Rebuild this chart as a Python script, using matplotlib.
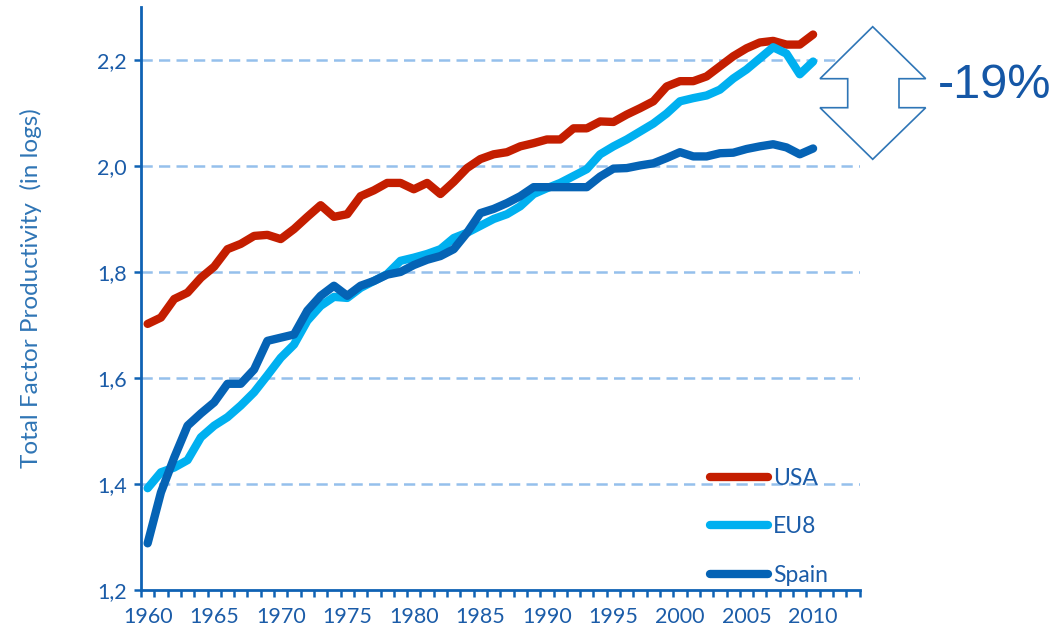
import numpy as np
import matplotlib
matplotlib.use("Agg")
import matplotlib.pyplot as plt
from matplotlib.patches import Polygon
from matplotlib.ticker import FuncFormatter, MultipleLocator

plt.rcParams['font.family'] = ['Lato', 'DejaVu Sans']

## Data (TFP in logs)
years = list(range(1960, 2011))

usa = [1.702, 1.714, 1.749, 1.761, 1.789, 1.810, 1.843, 1.853, 1.868, 1.870,
       1.862, 1.881, 1.904, 1.926, 1.904, 1.909, 1.943, 1.954, 1.968, 1.968,
       1.956, 1.968, 1.947, 1.970, 1.996, 2.013, 2.022, 2.026, 2.037, 2.043,
       2.050, 2.050, 2.071, 2.071, 2.084, 2.083, 2.097, 2.109, 2.122, 2.150,
       2.160, 2.160, 2.169, 2.188, 2.207, 2.222, 2.233, 2.236, 2.229, 2.229,
       2.248]

eu8 = [1.392, 1.422, 1.431, 1.445, 1.488, 1.510, 1.526, 1.548, 1.573, 1.605,
       1.638, 1.663, 1.708, 1.736, 1.753, 1.751, 1.770, 1.783, 1.796, 1.821,
       1.827, 1.834, 1.843, 1.864, 1.874, 1.887, 1.900, 1.909, 1.924, 1.947,
       1.958, 1.968, 1.981, 1.994, 2.022, 2.037, 2.050, 2.065, 2.080, 2.099,
       2.122, 2.128, 2.133, 2.144, 2.165, 2.182, 2.203, 2.224, 2.212, 2.173,
       2.197]

spain = [1.288, 1.384, 1.450, 1.510, 1.533, 1.554, 1.589, 1.589, 1.616, 1.670,
         1.676, 1.682, 1.727, 1.755, 1.774, 1.755, 1.774, 1.783, 1.795, 1.800,
         1.813, 1.823, 1.830, 1.843, 1.874, 1.911, 1.919, 1.930, 1.943, 1.960,
         1.960, 1.960, 1.960, 1.960, 1.980, 1.995, 1.996, 2.001, 2.005, 2.015,
         2.026, 2.018, 2.018, 2.024, 2.025, 2.032, 2.037, 2.041, 2.035, 2.022,
         2.033]

labels = ['USA', 'EU8', 'Spain']
colors = ['#C41E00', '#00B0F0', '#0563B5']

axis_blue = '#0F62B4'
text_blue = '#1B5CA8'

fig = plt.figure(figsize=(10.6, 6.33), dpi=100)
ax = fig.add_axes([0.133, 0.068, 0.678, 0.921])

for series, lab, col in zip([usa, eu8, spain], labels, colors):
    ax.plot(years, series, color=col, lw=6, label=lab,
            solid_capstyle='round', solid_joinstyle='round')

ax.set_xlim(1959.5, 2013.5)
ax.set_ylim(1.2, 2.3)

# gridlines
for gy in [1.4, 1.6, 1.8, 2.0, 2.2]:
    ax.axhline(gy, color='#95C0EC', lw=1.8, ls=(0, (4.5, 2.5)), zorder=0)

for s in ['top', 'right']:
    ax.spines[s].set_visible(False)
for s in ['left', 'bottom']:
    ax.spines[s].set_color(axis_blue)
    ax.spines[s].set_linewidth(2.0)

ax.yaxis.set_major_locator(MultipleLocator(0.2))
ax.yaxis.set_major_formatter(FuncFormatter(lambda v, p: ('%.1f' % v).replace('.', ',')))
ax.set_xticks(list(range(1960, 2011, 5)))
ax.set_xticks(np.arange(1959.5, 2014, 1.0), minor=True)
ax.tick_params(axis='x', which='major', length=0, pad=12, labelsize=15.5, labelcolor=text_blue)
ax.tick_params(axis='x', which='minor', length=5, width=1.8, color=axis_blue, direction='out')
ax.tick_params(axis='y', which='major', length=5, width=1.8, color=axis_blue,
               labelsize=15.5, labelcolor=text_blue, pad=5)

ax.set_ylabel('Total Factor Productivity  (in logs)', fontsize=17.5, color='#2F75B5')
ax.yaxis.set_label_coords(-0.138, 0.518)

leg = ax.legend(loc='lower right', bbox_to_anchor=(0.985, -0.028), frameon=False,
                fontsize=16.5, handlelength=2.5, labelspacing=1.2, handletextpad=0.25,
                labelcolor=text_blue)
for h in leg.get_lines():
    h.set_solid_capstyle('round')

# double-headed arrow annotation (figure pixel coords)
W, H = 1060.0, 633.0
pts = [(872.7, 26.7), (925.7, 78.7), (899, 78.7), (899, 107.7), (925.7, 107.7),
       (872.7, 159.3), (820, 107.7), (847.7, 107.7), (847.7, 78.7), (820, 78.7)]
arrow = Polygon([(x / W, 1 - y / H) for x, y in pts], closed=True,
                transform=fig.transFigure, facecolor='white',
                edgecolor='#2E75B6', lw=1.2)
fig.patches.append(arrow)
fig.text(995 / W, 1 - 86 / H, '-19%', fontsize=35, color='#1557A6',
         family='Liberation Sans', ha='center', va='center')

plt.savefig('out.png', dpi=100)
